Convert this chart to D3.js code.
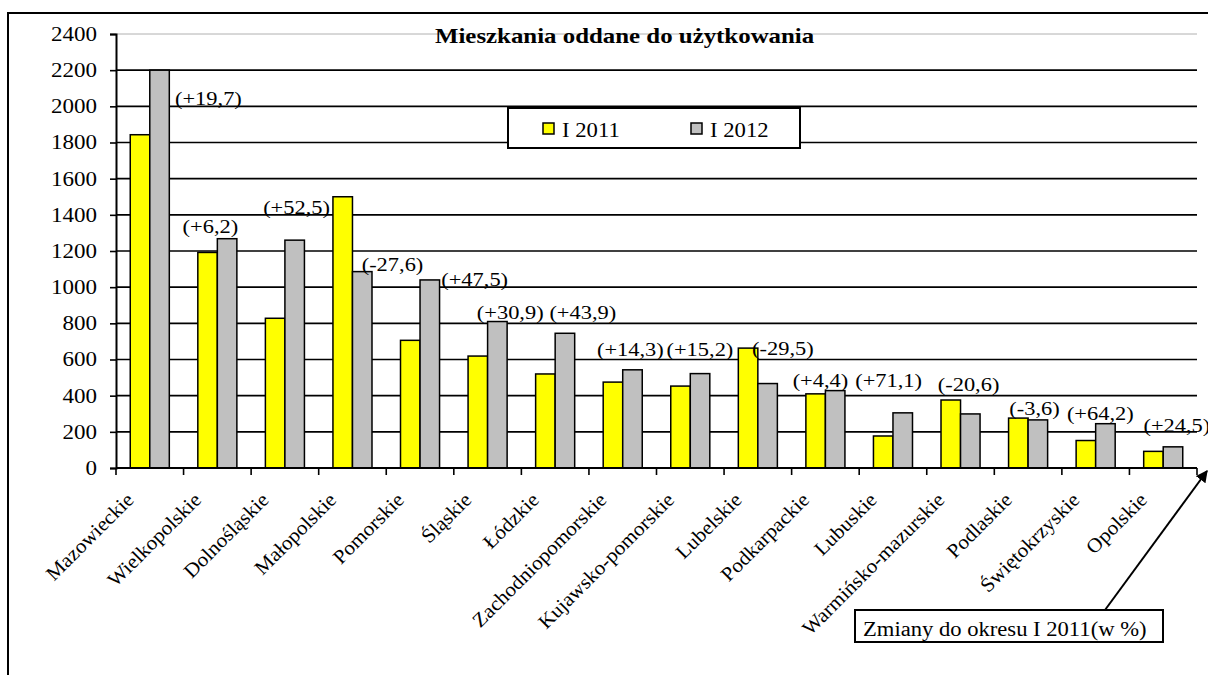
<!DOCTYPE html>
<html>
<head>
<meta charset="utf-8">
<script src="https://d3js.org/d3.v7.min.js"></script>
<style>
  body { margin: 0; background: #fff; }
  text { font-family: "Liberation Serif", "Times New Roman", serif; fill: #000; }
</style>
</head>
<body>
<div class="container"></div>
<script>
const width = 1208;
const height = 675;

// dane
const regions = ['Mazowieckie', 'Wielkopolskie', 'Dolnośląskie', 'Małopolskie', 'Pomorskie', 'Śląskie',
  'Łódzkie', 'Zachodniopomorskie', 'Kujawsko-pomorskie', 'Lubelskie', 'Podkarpackie', 'Lubuskie',
  'Warmińsko-mazurskie', 'Podlaskie', 'Świętokrzyskie', 'Opolskie'];
const series = ['I 2011', 'I 2012'];
const values2011 = [1843, 1192, 828, 1500, 706, 619, 520, 475, 453, 663, 410, 177, 376, 276, 152, 92];
const values2012 = [2200, 1268, 1260, 1086, 1040, 810, 745, 543, 522, 467, 428, 305, 299, 266, 245, 117];
const changes = ['+19,7', '+6,2', '+52,5', '-27,6', '+47,5', '+30,9', '+43,9', '+14,3', '+15,2',
  '-29,5', '+4,4', '+71,1', '-20,6', '-3,6', '+64,2', '+24,5'];
const yTicks = [0, 200, 400, 600, 800, 1000, 1200, 1400, 1600, 1800, 2000, 2200, 2400];

// przesunięcia etykiet zmian (ręcznie, jak w oryginale) [dx od początku kategorii, dy od wyższego słupka]
const labelOffsets = [[59, 28], [-1, -12], [12, -33], [43, 68], [55, -1], [23, -9], [28, -21], [8, -20],
  [10, -24], [28, 0], [1, -10], [-4, -32], [11, -16], [15, -10], [5, -10], [14, -21]];

const colors = ['#ffff00', '#c0c0c0'];
const plot = { left: 116, right: 1197, top: 34, bottom: 468 };

const svg = d3.select('.container')
  .append('svg')
  .attr('width', width)
  .attr('height', height);

svg.append('rect')
  .attr('width', width)
  .attr('height', height)
  .attr('fill', '#fff');

// rozciąganie tekstu w poziomie (czcionka w oryginale jest szersza)
function stretch(sel, k) {
  sel.each(function () {
    const w = this.getComputedTextLength();
    this.setAttribute('textLength', w * k);
    this.setAttribute('lengthAdjust', 'spacingAndGlyphs');
  });
}

// ramka zewnętrzna
svg.append('rect')
  .attr('x', 8)
  .attr('y', 13)
  .attr('width', 1300)
  .attr('height', 800)
  .attr('fill', 'none')
  .attr('stroke', '#000')
  .attr('stroke-width', 2);

const x0 = d3.scaleBand()
  .domain(regions)
  .range([plot.left, plot.right])
  .padding(0);

const x1 = d3.scaleBand()
  .domain(series)
  .range([0, x0.bandwidth()])
  .paddingInner(0)
  .paddingOuter(0.73);

const y = d3.scaleLinear()
  .domain([0, 2400])
  .range([plot.bottom, plot.top]);

// linie siatki
svg.append('g')
  .selectAll('line')
  .data(yTicks.filter(t => t > 0 && t < 2400))
  .enter()
  .append('line')
  .attr('x1', plot.left)
  .attr('x2', plot.right)
  .attr('y1', d => y(d))
  .attr('y2', d => y(d))
  .attr('stroke', '#000')
  .attr('stroke-width', 1.6);

// górna krawędź obszaru wykresu
svg.append('line')
  .attr('x1', plot.left)
  .attr('x2', plot.right)
  .attr('y1', y(2400))
  .attr('y2', y(2400))
  .attr('stroke', '#b0b0b0')
  .attr('stroke-width', 1);

// tytuł
const title = svg.append('text')
  .attr('x', 435)
  .attr('y', 43)
  .attr('font-size', 22)
  .attr('font-weight', 'bold')
  .text('Mieszkania oddane do użytkowania');
stretch(title, 1.13);

// słupki
const rows = regions.map((r, i) => ({ region: r, i, vals: [values2011[i], values2012[i]] }));

const groups = svg.append('g')
  .selectAll('g')
  .data(rows)
  .enter()
  .append('g')
  .attr('transform', d => `translate(${x0(d.region)},0)`);

groups.selectAll('rect')
  .data(d => d.vals.map((v, k) => ({ s: series[k], v, k })))
  .enter()
  .append('rect')
  .attr('x', d => x1(d.s))
  .attr('y', d => y(d.v))
  .attr('width', x1.bandwidth())
  .attr('height', d => y(0) - y(d.v))
  .attr('fill', d => colors[d.k])
  .attr('stroke', '#000')
  .attr('stroke-width', 1.5);

// osie
const yAxis = svg.append('g')
  .attr('transform', `translate(${plot.left},0)`)
  .call(d3.axisLeft(y).tickValues(yTicks).tickSize(6).tickPadding(13).tickFormat(d3.format('d')));
yAxis.select('.domain').attr('stroke-width', 2);
yAxis.selectAll('.tick line').attr('stroke-width', 1.6);
yAxis.selectAll('text').attr('font-size', 20).attr('font-family', '"Liberation Serif", serif');
stretch(yAxis.selectAll('text'), 1.15);

const xAxis = svg.append('g')
  .attr('transform', `translate(0,${plot.bottom})`);
xAxis.append('line')
  .attr('x1', plot.left)
  .attr('x2', plot.right)
  .attr('stroke', '#000')
  .attr('stroke-width', 2);
xAxis.selectAll('.tk')
  .data(d3.range(regions.length + 1))
  .enter()
  .append('line')
  .attr('class', 'tk')
  .attr('x1', i => plot.left + i * x0.step())
  .attr('x2', i => plot.left + i * x0.step())
  .attr('y1', 0)
  .attr('y2', 7)
  .attr('stroke', '#000')
  .attr('stroke-width', 1.6);

const catLabels = svg.append('g')
  .selectAll('text')
  .data(regions)
  .enter()
  .append('text')
  .attr('transform', d => `translate(${x0(d) + x0.bandwidth() / 2 - 15},${plot.bottom + 33}) rotate(-45)`)
  .attr('text-anchor', 'end')
  .attr('font-size', 20)
  .text(d => d);
stretch(catLabels, 1.06);

// etykiety zmian
const changeLabels = svg.append('g')
  .selectAll('text')
  .data(rows)
  .enter()
  .append('text')
  .attr('x', d => x0(d.region) + labelOffsets[d.i][0])
  .attr('y', d => y(Math.max(...d.vals)) + labelOffsets[d.i][1])
  .attr('dy', '0.35em')
  .attr('font-size', 19)
  .text(d => `(${changes[d.i]})`);
stretch(changeLabels, 1.18);

// legenda
const legend = svg.append('g')
  .attr('transform', 'translate(508,108)');

legend.append('rect')
  .attr('width', 292)
  .attr('height', 40)
  .attr('fill', '#fff')
  .attr('stroke', '#000')
  .attr('stroke-width', 2);

const legendX = [35, 183];
series.forEach((s, k) => {
  legend.append('rect')
    .attr('x', legendX[k])
    .attr('y', 15)
    .attr('width', 11)
    .attr('height', 11)
    .attr('fill', colors[k])
    .attr('stroke', '#000')
    .attr('stroke-width', 1.5);
  const t = legend.append('text')
    .attr('x', legendX[k] + 19)
    .attr('y', 28.5)
    .attr('font-size', 21)
    .text(s);
  stretch(t, 1.08);
});

// opis ze strzałką
svg.append('defs')
  .append('marker')
  .attr('id', 'arrow')
  .attr('viewBox', '0 0 10 10')
  .attr('refX', 9)
  .attr('refY', 5)
  .attr('markerWidth', 6)
  .attr('markerHeight', 6)
  .attr('orient', 'auto')
  .append('path')
  .attr('d', 'M0,0 L10,5 L0,10 z')
  .attr('fill', '#000');

svg.append('line')
  .attr('x1', 1105)
  .attr('y1', 610)
  .attr('x2', 1207)
  .attr('y2', 471)
  .attr('stroke', '#000')
  .attr('stroke-width', 2)
  .attr('marker-end', 'url(#arrow)');

svg.append('rect')
  .attr('x', 855)
  .attr('y', 610)
  .attr('width', 308)
  .attr('height', 32)
  .attr('fill', '#fff')
  .attr('stroke', '#000')
  .attr('stroke-width', 2);

const note = svg.append('text')
  .attr('x', 863)
  .attr('y', 636)
  .attr('font-size', 20)
  .text('Zmiany do okresu I 2011(w %)');
stretch(note, 1.13);
</script>
</body>
</html>
